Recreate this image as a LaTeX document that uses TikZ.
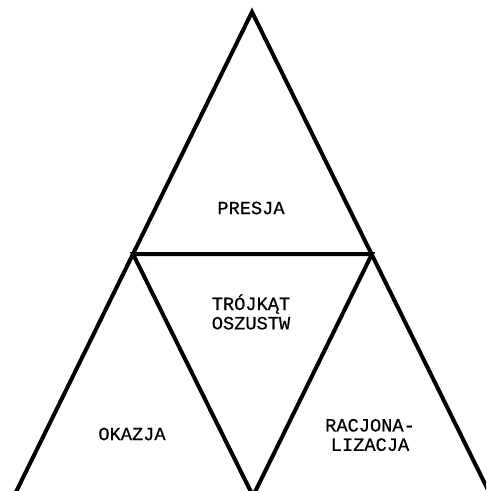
\documentclass[tikz,border=0pt]{standalone}
\usepackage{fontspec}
\newfontfamily\slabfont[BoldFont=*, BoldFeatures={FakeBold=0.6}]{Liberation Mono}
\usetikzlibrary{positioning}
\tikzset{
  edge/.style={line width=3pt, line join=miter, black},
  lbl/.style={font=\slabfont\bfseries\fontsize{14}{14.5}\selectfont, align=center, inner sep=0pt}
}
\begin{document}
\begin{tikzpicture}[x=0.75pt, y=-0.75pt]
    \useasboundingbox (0,0) rectangle (486,491);
    \clip (0,0) rectangle (486,491);
    % corners of the big triangle and the middle points of its sides
    \coordinate (apex) at (252,12);
    \coordinate (midL) at (133,254);
    \coordinate (midR) at (372,254);
    \coordinate (baseL) at (14,496);
    \coordinate (baseR) at (491,496);
    \coordinate (baseM) at (253,496);
    \draw[edge] (baseL) -- (apex) -- (baseR);
    \draw[edge] (midL) -- (midR) -- (baseM) -- cycle;
    \node[lbl] (presja) at (251,208) {PRESJA};
    \node[lbl] (trojkat) at (251,312) {TRÓJKĄT\\OSZUSTW};
    \node[lbl] (okazja) at (132,434) {OKAZJA};
    \node[lbl] (racjo) at (370,435) {RACJONA-\\LIZACJA};
\end{tikzpicture}
\end{document}
